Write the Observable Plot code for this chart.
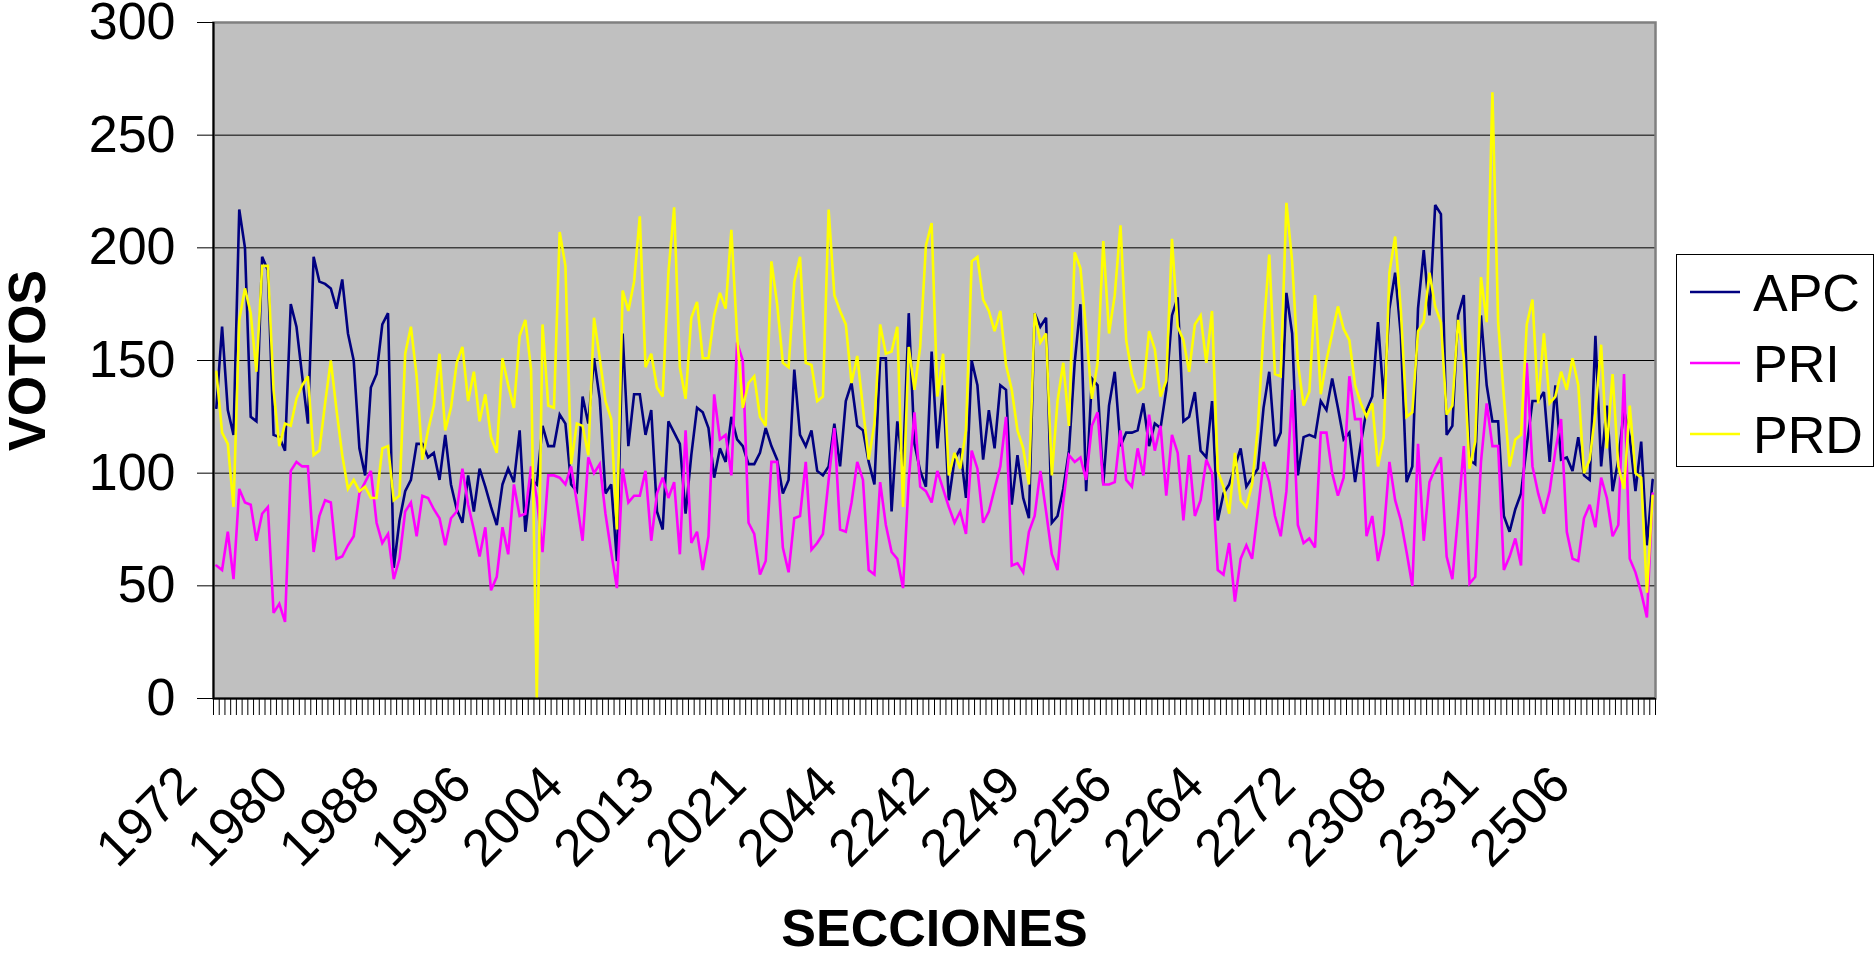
<!DOCTYPE html>
<html>
<head>
<meta charset="utf-8">
<script src="https://cdn.jsdelivr.net/npm/d3@7"></script>
<script src="https://cdn.jsdelivr.net/npm/@observablehq/plot@0.6"></script>
<style>
  body { margin: 0; background: #fff; }
  #wrap { position: relative; width: 1874px; height: 954px; font-family: "Liberation Sans", Arial, sans-serif; }
  #legend { position: absolute; left: 1676px; top: 254px; }
</style>
</head>
<body>
<div id="wrap"></div>
<script>
// Tick labels shown on the category axis (every 16th casilla)
const tickPositions = [0, 16, 32, 48, 64, 80, 96, 112, 128, 144, 160, 176, 192, 208, 224, 240];
const tickLabels = ["1972", "1980", "1988", "1996", "2004", "2013", "2021", "2044", "2242", "2249", "2256", "2264", "2272", "2308", "2331", "2506"];
const yTicks = [0, 50, 100, 150, 200, 250, 300];
const seriesNames = ["APC", "PRI", "PRD"];
const seriesColors = ["#000080", "#ff00ff", "#ffff00"];

const APC = [
  129,165,128,117,217,200,125,123,196,190,
  117,116,110,175,165,143,122,196,185,184,
  182,173,186,162,150,111,99,138,144,166,
  171,58,79,92,97,113,113,107,109,97,
  117,95,84,78,99,83,102,94,85,77,
  95,102,96,119,74,97,95,121,112,112,
  126,122,95,92,134,122,151,133,91,95,
  61,162,112,135,135,117,128,83,75,123,
  118,113,82,108,129,127,120,98,111,105,
  125,115,112,104,104,109,120,112,106,91,
  97,146,117,112,119,101,99,103,122,103,
  132,140,121,119,105,95,151,151,83,123,
  103,171,113,101,94,154,111,139,88,106,
  111,89,150,139,106,128,111,139,137,86,
  108,89,80,171,165,169,78,81,93,110,
  149,175,92,142,139,95,130,145,112,118,
  118,119,131,112,122,120,137,170,178,123,
  125,136,110,107,132,79,91,95,103,111,
  94,98,102,129,145,112,118,180,162,99,
  116,117,116,132,128,142,129,115,118,96,
  113,128,134,167,133,173,189,161,96,103,
  173,199,170,219,215,117,121,170,179,106,
  104,170,139,123,123,81,74,84,91,112,
  132,132,136,105,139,106,107,101,116,99,
  97,161,103,130,92,106,128,116,92,114,
  68,97
];
const PRI = [
  59,57,74,53,93,87,86,70,82,85,
  38,42,34,101,105,103,103,65,81,88,
  87,62,63,68,72,91,96,101,78,69,
  73,53,62,83,87,72,90,89,84,80,
  68,80,83,102,86,75,63,76,48,54,
  76,64,95,81,82,103,89,65,99,99,
  98,95,103,87,70,107,100,104,82,65,
  49,102,87,90,90,101,70,91,98,89,
  96,64,119,69,74,57,72,135,115,117,
  99,158,150,78,73,55,61,105,105,67,
  56,80,81,105,66,69,73,97,120,75,
  74,87,105,97,57,55,96,77,65,62,
  49,97,127,94,92,87,101,93,85,78,
  83,73,110,102,78,83,93,103,125,59,
  60,56,74,81,101,83,64,57,87,108,
  105,107,97,121,127,95,95,96,119,97,
  94,111,99,126,110,121,90,117,109,79,
  108,81,88,106,100,57,55,69,43,62,
  68,62,83,105,96,81,72,92,137,77,
  69,71,67,118,118,100,90,98,143,124,
  124,72,81,61,73,105,88,79,65,50,
  113,70,96,102,107,63,53,81,112,51,
  54,105,131,112,112,57,63,71,59,149,
  103,91,82,92,110,124,74,62,61,80,
  86,76,98,89,72,77,144,62,56,47,
  36,91
];
const PRD = [
  145,118,113,85,168,182,171,145,192,192,
  137,112,122,121,133,139,143,108,110,131,
  150,128,108,93,97,92,94,89,89,111,
  112,88,90,153,165,143,106,119,130,153,
  119,129,149,156,132,145,123,135,116,109,
  151,139,129,161,168,146,0,166,130,129,
  207,192,104,122,121,108,169,151,132,124,
  75,181,172,185,214,147,153,138,134,189,
  218,147,133,169,176,151,151,170,180,173,
  208,161,129,140,143,125,121,194,175,149,
  147,185,196,149,148,132,134,217,179,172,
  166,140,152,129,106,122,166,153,154,165,
  85,156,137,156,201,211,134,153,99,109,
  102,119,194,196,177,172,163,172,148,137,
  119,111,95,171,158,162,99,132,149,121,
  198,191,163,133,149,203,162,179,210,159,
  144,136,138,163,155,134,141,204,165,159,
  145,166,170,149,172,101,94,82,109,88,
  85,95,120,163,197,144,143,220,194,149,
  130,136,179,135,150,162,174,164,159,139,
  131,125,131,103,116,189,205,172,125,127,
  163,167,189,174,167,126,130,168,151,102,
  114,187,167,269,167,134,103,115,117,166,
  177,131,162,131,134,145,137,151,139,100,
  106,127,157,111,144,103,93,130,100,98,
  47,90
];

const seriesValues = [APC, PRI, PRD];
const N = APC.length;
const rows = seriesNames.flatMap((name, s) => seriesValues[s].map((v, i) => ({ i, v, name })));
const boundaries = d3.range(N + 1).map(k => k - 0.5);
const FONT = "Liberation Sans, Arial, sans-serif";

const chart = Plot.plot({
  width: 1874,
  height: 954,
  marginLeft: 213,
  marginRight: 219,
  marginTop: 22,
  marginBottom: 256,
  style: { fontFamily: FONT, fontSize: "52px", color: "#000", background: "transparent", overflow: "visible" },
  x: { domain: [-0.5, N - 0.5] },
  y: { domain: [0, 300] },
  color: { domain: seriesNames, range: seriesColors },
  marks: [
    Plot.frame({ fill: "#c0c0c0" }),
    Plot.ruleY([50, 100, 150, 200, 250], { stroke: "#000", strokeWidth: 1 }),
    Plot.frame({ stroke: "#808080", strokeWidth: 2.5 }),
    Plot.line(rows, { x: "i", y: "v", z: "name", stroke: "name", strokeWidth: 2.6, strokeLinejoin: "miter", strokeMiterlimit: 3 }),
    Plot.ruleY([0], { stroke: "#000", strokeWidth: 2 }),
    Plot.ruleX([-0.5], { stroke: "#000", strokeWidth: 2 }),
    Plot.axisY({ ticks: yTicks, tickSize: 16, tickPadding: 22, fontSize: 52, tickFormat: d => String(d), stroke: "#000", label: null }),
    Plot.axisX({ ticks: boundaries, tickSize: 17, tickFormat: () => "", stroke: "#000", label: null }),
    Plot.text(tickPositions, {
      x: d => d,
      text: (d, i) => tickLabels[i],
      frameAnchor: "bottom",
      rotate: -45,
      textAnchor: "end",
      lineAnchor: "bottom",
      dx: -17,
      dy: 89,
      fontSize: 52
    }),
    Plot.text(["VOTOS"], { text: d => d, frameAnchor: "left", textAnchor: "middle", rotate: -90, dx: -185, fontWeight: "bold", fontSize: 52 }),
    Plot.text(["SECCIONES"], { text: d => d, frameAnchor: "bottom", textAnchor: "middle", lineAnchor: "bottom", dy: 247, fontWeight: "bold", fontSize: 52 })
  ]
});

const wrap = document.getElementById("wrap");
wrap.appendChild(chart);

// Legend (overlay box at right)
const lg = d3.select(wrap).append("svg")
  .attr("id", "legend")
  .attr("width", 198).attr("height", 214)
  .style("font-family", FONT);
lg.append("rect").attr("x", 0.5).attr("y", 0.5).attr("width", 197).attr("height", 212)
  .attr("fill", "#fff").attr("stroke", "#000").attr("stroke-width", 1);
seriesNames.forEach((name, k) => {
  const cy = 38 + k * 71;
  lg.append("line").attr("x1", 14).attr("x2", 64).attr("y1", cy).attr("y2", cy)
    .attr("stroke", seriesColors[k]).attr("stroke-width", 2.5);
  lg.append("text").attr("x", 77).attr("y", cy + 19).attr("font-size", 52).attr("fill", "#000").text(name);
});
</script>
</body>
</html>
